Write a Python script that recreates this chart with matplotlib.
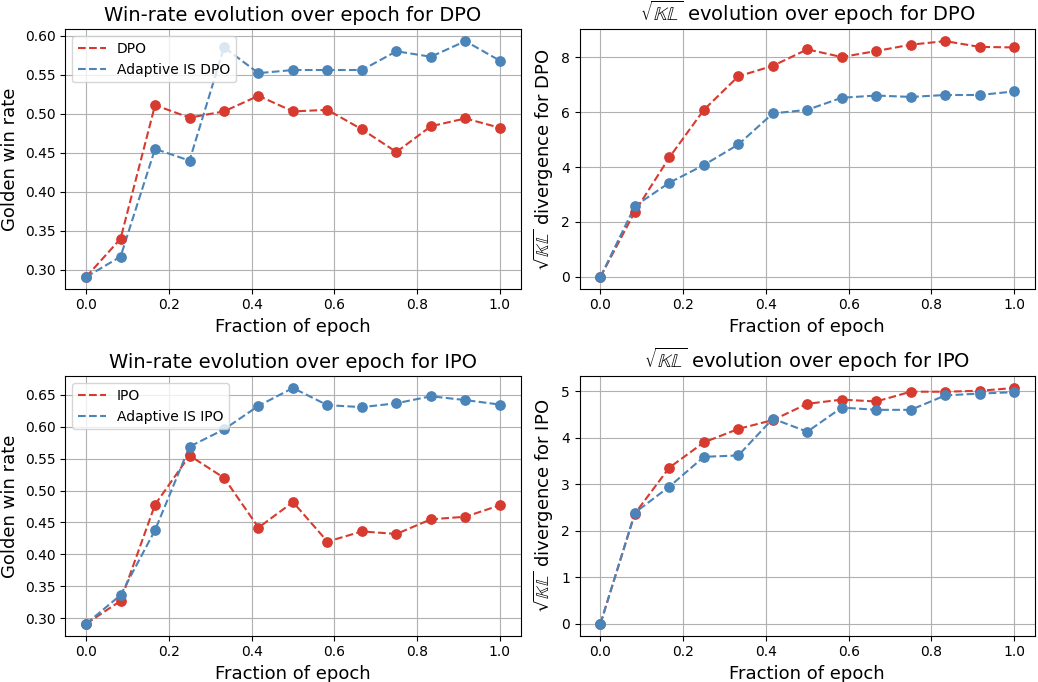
import numpy as np
import matplotlib
matplotlib.use('Agg')
import matplotlib.pyplot as plt
from matplotlib.ticker import MultipleLocator, FormatStrFormatter

epoch = np.linspace(0, 1, 13)

dpo_winrate = [0.291, 0.340, 0.511, 0.495, 0.503, 0.523, 0.503, 0.505, 0.480, 0.451, 0.484, 0.494, 0.482]
is_dpo_winrate = [0.291, 0.317, 0.455, 0.440, 0.585, 0.552, 0.556, 0.556, 0.556, 0.580, 0.573, 0.593, 0.568]

dpo_kl = [0.0, 2.38, 4.35, 6.08, 7.30, 7.68, 8.28, 8.00, 8.22, 8.45, 8.58, 8.37, 8.35]
is_dpo_kl = [0.0, 2.58, 3.43, 4.07, 4.82, 5.95, 6.08, 6.52, 6.60, 6.55, 6.62, 6.62, 6.75]

ipo_winrate = [0.291, 0.327, 0.478, 0.555, 0.520, 0.442, 0.482, 0.420, 0.436, 0.432, 0.455, 0.459, 0.477]
is_ipo_winrate = [0.291, 0.336, 0.438, 0.569, 0.596, 0.633, 0.661, 0.634, 0.631, 0.637, 0.648, 0.642, 0.635]

ipo_kl = [0.0, 2.37, 3.36, 3.90, 4.19, 4.38, 4.73, 4.82, 4.78, 4.99, 4.99, 5.01, 5.07]
is_ipo_kl = [0.0, 2.39, 2.95, 3.59, 3.62, 4.41, 4.13, 4.65, 4.60, 4.60, 4.91, 4.95, 4.98]

red = '#d73a2f'
blue = '#4a84b8'
sqrt_kl = r'$\sqrt{\mathbb{KL}}$'

fig, axes = plt.subplots(2, 2, figsize=(10.38, 6.82), dpi=100)

panels = [
    (axes[0, 0], 'DPO', dpo_winrate, is_dpo_winrate, 'winrate'),
    (axes[0, 1], 'DPO', dpo_kl, is_dpo_kl, 'kl'),
    (axes[1, 0], 'IPO', ipo_winrate, is_ipo_winrate, 'winrate'),
    (axes[1, 1], 'IPO', ipo_kl, is_ipo_kl, 'kl'),
]

for ax, algo, base, adaptive, kind in panels:
    ax.plot(epoch, base, '--', color=red, label=algo)
    ax.scatter(epoch, base, color=red, s=45, zorder=3)
    ax.plot(epoch, adaptive, '--', color=blue, label='Adaptive IS ' + algo)
    ax.scatter(epoch, adaptive, color=blue, s=45, zorder=3)
    ax.grid(True)
    ax.set_xlabel('Fraction of epoch', fontsize=13)
    if kind == 'winrate':
        ax.set_title('Win-rate evolution over epoch for ' + algo, fontsize=14)
        ax.set_ylabel('Golden win rate', fontsize=13)
        ax.yaxis.set_major_locator(MultipleLocator(0.05))
        ax.yaxis.set_major_formatter(FormatStrFormatter('%.2f'))
        ax.legend(loc='upper left')
    else:
        ax.set_title(sqrt_kl + ' evolution over epoch for ' + algo, fontsize=14)
        ax.set_ylabel(sqrt_kl + ' divergence for ' + algo, fontsize=13)

plt.subplots_adjust(left=0.063, right=0.997, top=0.957, bottom=0.068,
                    wspace=0.13, hspace=0.337)
plt.savefig('out.png')
